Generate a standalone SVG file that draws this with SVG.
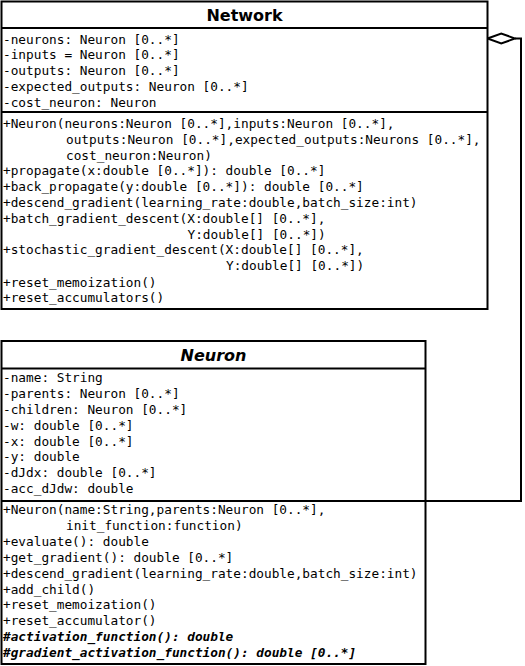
<svg xmlns="http://www.w3.org/2000/svg" width="525" height="666" viewBox="0 0 525 666">
<style>
.box{fill:#fff;stroke:#000;stroke-width:2}
.sep{stroke:#000;stroke-width:2;fill:none}
.hdr{font-family:"DejaVu Sans",sans-serif;font-size:16px;font-weight:bold;text-anchor:middle;fill:#000}
.hdri{font-style:italic}
.m{font-family:"DejaVu Sans Mono",monospace;font-size:12.75px;fill:#000;white-space:pre}
.bi{font-weight:bold;font-style:italic}
.conn{stroke:#000;stroke-width:2;fill:none}
</style>
<rect width="525" height="666" fill="#fff"/>
<g id="connectors">
<polyline class="conn" points="425.5,501 521,501 521,38.5 515,38.5"/>
<polygon class="conn" points="487.5,38.5 501.25,33.5 515,38.5 501.25,43.5"/>
</g>
<g id="Network">
<rect class="box" x="1.5" y="1.5" width="486" height="307.5"/>
<line class="sep" x1="1.5" y1="28" x2="487.5" y2="28"/>
<line class="sep" x1="1.5" y1="112" x2="487.5" y2="112"/>
<text class="hdr" x="244.5" y="20.5">Network</text>
<text class="m" x="3" y="43.5">-neurons: Neuron [0..*]</text>
<text class="m" x="3" y="59.25">-inputs = Neuron [0..*]</text>
<text class="m" x="3" y="75">-outputs: Neuron [0..*]</text>
<text class="m" x="3" y="90.75">-expected_outputs: Neuron [0..*]</text>
<text class="m" x="3" y="106.5">-cost_neuron: Neuron</text>
<text class="m" x="3" y="128">+Neuron(neurons:Neuron [0..*],inputs:Neuron [0..*],</text>
<text class="m" x="66" y="143.8">outputs:Neuron [0..*],expected_outputs:Neurons [0..*],</text>
<text class="m" x="66" y="159.6">cost_neuron:Neuron)</text>
<text class="m" x="3" y="175.4">+propagate(x:double [0..*]): double [0..*]</text>
<text class="m" x="3" y="191.2">+back_propagate(y:double [0..*]): double [0..*]</text>
<text class="m" x="3" y="207">+descend_gradient(learning_rate:double,batch_size:int)</text>
<text class="m" x="3" y="222.8">+batch_gradient_descent(X:double[] [0..*],</text>
<text class="m" x="187.5" y="238.6">Y:double[] [0..*])</text>
<text class="m" x="3" y="254.4">+stochastic_gradient_descent(X:double[] [0..*],</text>
<text class="m" x="226" y="270.2">Y:double[] [0..*])</text>
<text class="m" x="3" y="286.5">+reset_memoization()</text>
<text class="m" x="3" y="302">+reset_accumulators()</text>
</g>
<g id="Neuron">
<rect class="box" x="1.5" y="341" width="424" height="323"/>
<line class="sep" x1="1.5" y1="368.5" x2="425.5" y2="368.5"/>
<line class="sep" x1="1.5" y1="501" x2="425.5" y2="501"/>
<text class="hdr hdri" x="213.5" y="361">Neuron</text>
<text class="m" x="3" y="382.3">-name: String</text>
<text class="m" x="3" y="398.1">-parents: Neuron [0..*]</text>
<text class="m" x="3" y="413.9">-children: Neuron [0..*]</text>
<text class="m" x="3" y="429.7">-w: double [0..*]</text>
<text class="m" x="3" y="445.5">-x: double [0..*]</text>
<text class="m" x="3" y="461.3">-y: double</text>
<text class="m" x="3" y="477.1">-dJdx: double [0..*]</text>
<text class="m" x="3" y="492.9">-acc_dJdw: double</text>
<text class="m" x="3" y="514">+Neuron(name:String,parents:Neuron [0..*],</text>
<text class="m" x="66" y="529.9">init_function:function)</text>
<text class="m" x="3" y="545.8">+evaluate(): double</text>
<text class="m" x="3" y="561.7">+get_gradient(): double [0..*]</text>
<text class="m" x="3" y="577.6">+descend_gradient(learning_rate:double,batch_size:int)</text>
<text class="m" x="3" y="593.5">+add_child()</text>
<text class="m" x="3" y="609.4">+reset_memoization()</text>
<text class="m" x="3" y="625.3">+reset_accumulator()</text>
<text class="m bi" x="3" y="641.2">#activation_function(): double</text>
<text class="m bi" x="3" y="657.1">#gradient_activation_function(): double [0..*]</text>
</g>
</svg>
